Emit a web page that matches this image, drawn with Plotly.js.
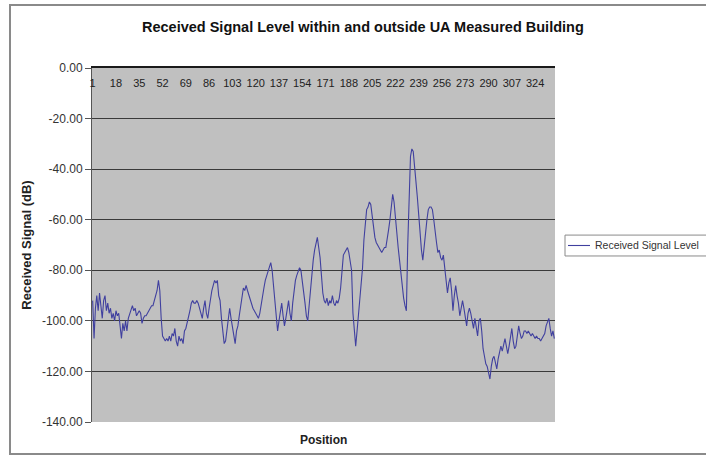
<!DOCTYPE html>
<html>
<head>
<meta charset="utf-8">
<script src="https://cdn.plot.ly/plotly-3.0.1.min.js"></script>
<style>
  html, body { margin: 0; padding: 0; background: #fff; }
  #wrap { position: relative; width: 706px; height: 460px; overflow: hidden; }
  #frame { position: absolute; left: 9px; top: 4px; width: 710px; height: 451px; border: 2px solid #8a8a8a; box-sizing: border-box; pointer-events: none; }
  #chart { position: absolute; left: 0; top: 0; width: 706px; height: 460px; }
</style>
</head>
<body>
<div id="wrap">
  <div id="chart"></div>
  <div id="frame"></div>
</div>
<script>
// Received signal level (dB) per measured position
const signalLevel = [
  -92, -107, -95, -90, -96, -89, -94, -99, -92, -90,
  -96, -93, -97, -95, -99, -97, -100, -96, -98, -97,
  -102, -107, -101, -104, -100, -104, -99, -97, -95, -94,
  -96, -95, -98, -97, -96, -97, -101, -99, -98, -98,
  -97, -96, -95, -94, -94, -92, -90, -88, -84, -88,
  -99, -106, -107, -108, -107, -108, -106, -108, -105, -106,
  -103, -108, -110, -106, -108, -107, -109, -104, -103, -101,
  -99, -96, -93, -92, -93, -93, -92, -93, -95, -97,
  -99, -95, -92, -97, -99, -95, -91, -88, -86, -84,
  -85, -84, -90, -92, -99, -105, -109, -108, -104, -100,
  -95, -99, -102, -106, -109, -104, -102, -98, -94, -91,
  -87, -88, -86, -88, -90, -92, -93, -95, -96, -97,
  -98, -99, -97, -93, -90, -87, -84, -82, -81, -79,
  -77, -80, -86, -92, -98, -104, -100, -96, -93, -98,
  -102, -99, -95, -92, -97, -100, -93, -88, -84, -82,
  -80, -79, -80, -84, -87, -93, -98, -100, -94, -87,
  -80, -76, -72, -69, -67, -71, -75, -82, -89, -92,
  -93, -91, -94, -92, -93, -90, -93, -94, -92, -93,
  -91, -87, -80, -74, -73, -72, -71, -73, -76, -80,
  -97, -105, -110, -104, -97, -90, -84, -79, -68, -60,
  -56, -55, -53, -54, -59, -63, -67, -69, -70, -71,
  -72, -73, -72, -71, -71, -68, -64, -60, -55, -50,
  -53, -60, -66, -71, -76, -82, -88, -91, -94, -96,
  -70, -46, -35, -32, -33, -39, -44, -51, -58, -67,
  -72, -76, -70, -66, -60, -56, -55, -55, -56, -60,
  -66, -69, -73, -72, -75, -76, -74, -80, -84, -89,
  -85, -83, -88, -96, -90, -86, -90, -93, -98, -94,
  -92, -95, -99, -102, -97, -95, -97, -101, -103, -99,
  -102, -106, -100, -99, -104, -111, -114, -117, -118, -121,
  -123, -118, -115, -114, -117, -119, -115, -112, -110, -112,
  -109, -107, -110, -113, -110, -106, -103, -108, -111, -110,
  -105, -102, -105, -107, -106, -104, -104, -105, -104, -105,
  -106, -105, -106, -107, -106, -107, -107, -108, -107, -106,
  -105, -102, -100, -99, -103, -106, -104, -107
];

// Position categories 1..N
const positions = signalLevel.map((v, i) => i + 1);

// Category tick labels shown on the axis
const xTickLabels = [1, 18, 35, 52, 69, 86, 103, 120, 137, 154, 171, 188, 205, 222, 239, 256, 273, 290, 307, 324];

// Value axis ticks
const yTickValues = [0, -20, -40, -60, -80, -100, -120, -140];
const yTickLabels = yTickValues.map(v => v.toFixed(2));

const seriesName = 'Received Signal Level';
const FONT = 'Liberation Sans, Arial, sans-serif';
const LINE_COLOR = '#40409f';

const trace = {
  x: positions,
  y: signalLevel,
  type: 'scatter',
  mode: 'lines',
  name: seriesName,
  showlegend: false,
  line: { color: LINE_COLOR, width: 1.1 }
};

const layout = {
  width: 706,
  height: 460,
  margin: { l: 92, r: 151, t: 68, b: 38, autoexpand: false },
  paper_bgcolor: 'rgba(255,255,255,0)',
  plot_bgcolor: '#c0c0c0',
  font: { family: FONT, color: '#222' },
  title: {
    text: '<b>Received Signal Level within and outside UA Measured Building</b>',
    font: { family: FONT, size: 14.5, color: '#111' },
    x: 0.514, xanchor: 'center',
    y: 0.941, yanchor: 'middle'
  },
  xaxis: {
    type: 'linear',
    range: [0.5, signalLevel.length + 0.5],
    side: 'top',
    tickmode: 'array',
    tickvals: xTickLabels,
    ticktext: xTickLabels.map(String),
    ticklabelposition: 'outside',
    ticklabelstandoff: -25,
    ticks: '',
    tickfont: { family: FONT, size: 11, color: '#222' },
    showgrid: false,
    zeroline: false,
    showline: true,
    linecolor: '#1a1a1a',
    linewidth: 2,
    fixedrange: true
  },
  yaxis: {
    range: [-140, 0],
    tickmode: 'array',
    tickvals: yTickValues,
    ticktext: yTickLabels,
    ticks: 'outside',
    ticklen: 6,
    tickcolor: '#555',
    tickfont: { family: FONT, size: 12, color: '#333' },
    showline: true,
    linecolor: '#555',
    linewidth: 1,
    showgrid: true,
    gridcolor: '#3a3a3a',
    gridwidth: 1,
    zeroline: false,
    title: {
      text: '<b>Received Signal (dB)</b>',
      font: { family: FONT, size: 13, color: '#222' },
      standoff: 7
    },
    fixedrange: true
  },
  showlegend: false,
  shapes: [
    // legend box
    { type: 'rect', xref: 'paper', yref: 'paper', x0: 1.0216, x1: 1.34, y0: 0.469, y1: 0.528,
      fillcolor: '#ffffff', line: { color: '#8a8a8a', width: 1 } },
    // legend line sample
    { type: 'line', xref: 'paper', yref: 'paper', x0: 1.0281, x1: 1.0756, y0: 0.4986, y1: 0.4986,
      line: { color: LINE_COLOR, width: 1.1 } }
  ],
  annotations: [
    {
      text: '<b>Position</b>',
      xref: 'paper', yref: 'paper',
      x: 0.5, y: -0.05,
      xanchor: 'center', yanchor: 'middle',
      showarrow: false,
      font: { family: FONT, size: 12, color: '#222' }
    },
    {
      text: seriesName,
      xref: 'paper', yref: 'paper',
      x: 1.0821, y: 0.4986,
      xanchor: 'left', yanchor: 'middle',
      showarrow: false,
      font: { family: FONT, size: 10.5, color: '#333' }
    }
  ]
};

Plotly.newPlot('chart', [trace], layout, { staticPlot: true, displayModeBar: false });
</script>
</body>
</html>
